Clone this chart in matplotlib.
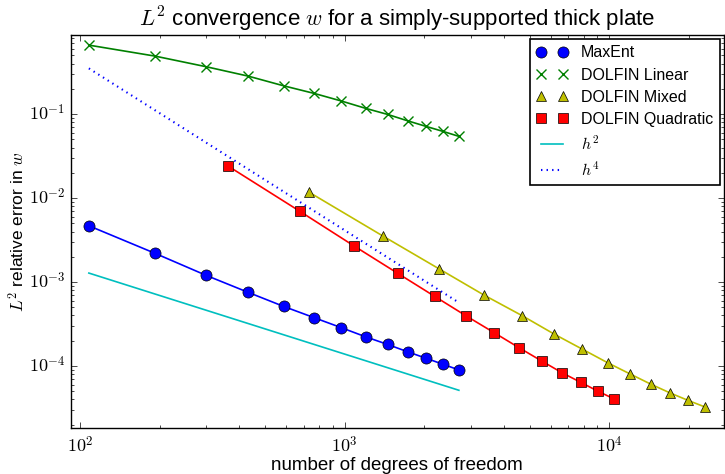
import matplotlib
matplotlib.use("Agg")
import matplotlib.pyplot as plt
from matplotlib.lines import Line2D
from matplotlib.ticker import FuncFormatter
import numpy as np

plt.style.use('classic')
plt.rcParams['font.family'] = ['Liberation Sans', 'DejaVu Sans']
plt.rcParams['mathtext.fontset'] = 'cm'
plt.rcParams['figure.facecolor'] = 'white'

# MaxEnt
dof_maxent = [108, 192, 300, 432, 588, 768, 972, 1200, 1452, 1728, 2028, 2352, 2700]
err_maxent = [4.68e-3, 2.20e-3, 1.20e-3, 7.54e-4, 5.13e-4, 3.76e-4, 2.86e-4,
              2.23e-4, 1.81e-4, 1.48e-4, 1.24e-4, 1.05e-4, 9.0e-5]
# DOLFIN linear (same meshes as MaxEnt)
dof_linear = dof_maxent
err_linear = [0.662, 0.490, 0.366, 0.283, 0.217, 0.176, 0.143, 0.117,
              0.0991, 0.0832, 0.0714, 0.0622, 0.0543]
# DOLFIN mixed
dof_mixed = [735, 1395, 2270, 3360, 4690, 6190, 7900, 9880, 12000, 14400, 17000, 19800, 22900]
err_mixed = [0.0117, 3.53e-3, 1.44e-3, 7.0e-4, 3.97e-4, 2.40e-4, 1.59e-4,
             1.09e-4, 8.03e-5, 6.05e-5, 4.77e-5, 3.91e-5, 3.27e-5]
# DOLFIN quadratic
dof_quad = [363, 675, 1083, 1587, 2187, 2883, 3675, 4563, 5547, 6627, 7803, 9075, 10443]
err_quad = [0.0240, 7.0e-3, 2.70e-3, 1.27e-3, 6.76e-4, 3.94e-4, 2.49e-4,
            1.65e-4, 1.15e-4, 8.32e-5, 6.39e-5, 5.0e-5, 4.05e-5]
# reference slopes
dof_ref = [108, 2700]
err_h2 = [1.28e-3, 5.15e-5]
err_h4 = [0.35, 5.7e-4]

fig = plt.figure(figsize=(7.25, 4.74), dpi=100)
ax = fig.add_axes([0.098, 0.097, 0.900, 0.829])

ax.loglog(dof_maxent, err_maxent, 'o-', color='b', mfc='b', mec='k', ms=8, lw=1.2)
ax.loglog(dof_linear, err_linear, 'x-', color='g', mec='g', ms=7.5, mew=1, lw=1.2)
ax.loglog(dof_mixed, err_mixed, '^-', color='y', mfc='y', mec='k', ms=7, lw=1.2)
ax.loglog(dof_quad, err_quad, 's-', color='r', mfc='r', mec='k', ms=7.5, lw=1.2)
ax.loglog(dof_ref, err_h2, '-', color='c', lw=1.2)
ax.loglog(dof_ref, err_h4, ':', color='b', lw=1.5)

ax.set_xlim(92.5, 27000)
ax.set_ylim(1.83e-5, 0.872)

pow_fmt = FuncFormatter(lambda v, p: '$10^{%d}$' % int(round(np.log10(v))))
ax.xaxis.set_major_formatter(pow_fmt)
ax.yaxis.set_major_formatter(pow_fmt)
ax.tick_params(labelsize=13)
ax.tick_params(axis='x', pad=6)

ax.set_title('$L^2$ convergence $w$ for a simply-supported thick plate', fontsize=16, y=1.005)
ax.set_xlabel('number of degrees of freedom', fontsize=13.5, labelpad=0)
ax.set_ylabel('$L^2$ relative error in $w$', fontsize=12.5, labelpad=1)

handles = [
    Line2D([], [], ls='none', marker='o', mfc='b', mec='k', ms=8),
    Line2D([], [], ls='none', marker='x', mec='g', ms=7.5, mew=1),
    Line2D([], [], ls='none', marker='^', mfc='y', mec='k', ms=7),
    Line2D([], [], ls='none', marker='s', mfc='r', mec='k', ms=7.5),
    Line2D([], [], color='c', lw=1.2),
    Line2D([], [], color='b', ls=':', lw=1.5),
]
labels = ['MaxEnt', 'DOLFIN Linear', 'DOLFIN Mixed', 'DOLFIN Quadratic', '$h^2$', '$h^4$']
leg = ax.legend(handles, labels, loc='upper right', numpoints=2, fontsize=11.5,
                fancybox=False, borderaxespad=0.25, labelspacing=0.45)
leg.get_frame().set_linewidth(1.2)

fig.savefig('out.png', dpi=100)
